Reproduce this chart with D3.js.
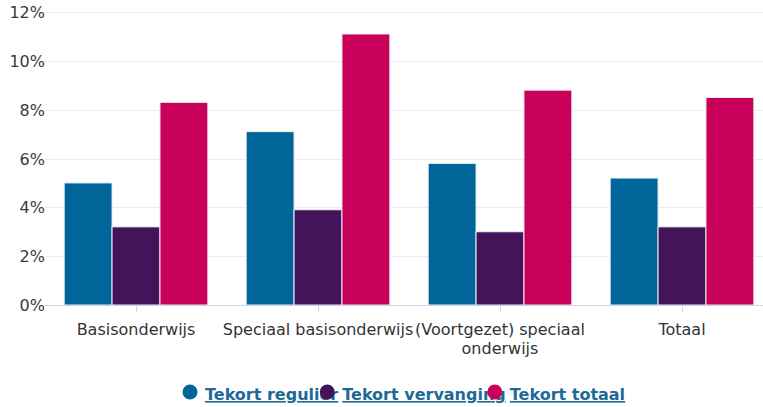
<!DOCTYPE html>
<html lang="nl">
<head>
<meta charset="UTF-8">
<title>Tekort</title>
<script src="https://d3js.org/d3.v7.min.js"></script>
<style>
  body { margin: 0; background: #fff; }
  text { font-family: "DejaVu Sans", Verdana, sans-serif; }
  .grid line { stroke: #ebebf0; stroke-width: 1; }
  .y text { fill: #3a3a3a; font-size: 16px; }
  .x text { fill: #333; font-size: 16px; }
  .legend text { fill: #1d6a97; font-size: 16px; font-weight: bold; text-decoration: underline; }
</style>
</head>
<body>
<script>
var categories = [["Basisonderwijs"], ["Speciaal basisonderwijs"], ["(Voortgezet) speciaal", "onderwijs"], ["Totaal"]];
var seriesNames = ["Tekort regulier", "Tekort vervanging", "Tekort totaal"];
var seriesColors = ["#006699", "#43145a", "#c8005a"];
var regulier = [5.0, 7.1, 5.8, 5.2];
var vervanging = [3.2, 3.9, 3.0, 3.2];
var totaal = [8.3, 11.1, 8.8, 8.5];
var yTicks = [0, 2, 4, 6, 8, 10, 12];

var W = 763, H = 407;
var svg = d3.select("body").append("svg").attr("width", W).attr("height", H);

var x0 = d3.scaleBand().domain(d3.range(categories.length)).range([45, 773]);
var x1 = d3.scaleBand().domain(d3.range(seriesNames.length)).range([0, x0.bandwidth()]).paddingInner(0).paddingOuter(0.4);
var y = d3.scaleLinear().domain([0, 12]).range([305, 12]);

// gridlines
svg.append("g").attr("class", "grid")
  .selectAll("line").data(yTicks.slice(1)).enter().append("line")
  .attr("x1", 45).attr("x2", W)
  .attr("y1", function(d) { return Math.round(y(d)) + 0.5; })
  .attr("y2", function(d) { return Math.round(y(d)) + 0.5; });

// y labels
svg.append("g").attr("class", "y")
  .selectAll("text").data(yTicks).enter().append("text")
  .attr("x", 45).attr("y", function(d) { return y(d) + 6; })
  .attr("text-anchor", "end")
  .text(function(d) { return d + "%"; });

// bars
var rows = [regulier, vervanging, totaal];
var groups = svg.append("g").selectAll("g").data(categories).enter().append("g")
  .attr("transform", function(d, i) { return "translate(" + x0(i) + ",0)"; });
groups.selectAll("rect").data(function(d, i) {
    return rows.map(function(r, s) { return { s: s, v: r[i] }; });
  }).enter().append("rect")
  .attr("x", function(d) { return x1(d.s); })
  .attr("width", x1.bandwidth())
  .attr("y", function(d) { return y(d.v); })
  .attr("height", function(d) { return y(0) - y(d.v); })
  .attr("fill", function(d) { return seriesColors[d.s]; })
  .attr("stroke", "#eef0f8").attr("stroke-width", 1);

// x axis line + ticks
svg.append("line").attr("x1", 45).attr("x2", W).attr("y1", 305.5).attr("y2", 305.5)
  .attr("stroke", "#ccd6eb");
svg.append("g").selectAll("line").data(categories).enter().append("line")
  .attr("x1", function(d, i) { return Math.round(x0(i) + x0.bandwidth() / 2) + 0.5; })
  .attr("x2", function(d, i) { return Math.round(x0(i) + x0.bandwidth() / 2) + 0.5; })
  .attr("y1", 305).attr("y2", 312).attr("stroke", "#ccd6eb");

// x labels
var xl = svg.append("g").attr("class", "x").selectAll("text").data(categories).enter().append("text")
  .attr("text-anchor", "middle")
  .attr("x", function(d, i) { return x0(i) + x0.bandwidth() / 2; })
  .attr("y", 335);
xl.selectAll("tspan").data(function(d) { return d; }).enter().append("tspan")
  .attr("x", function() { return this.parentNode.getAttribute("x"); })
  .attr("dy", function(d, i) { return i ? 19 : 0; })
  .text(function(d) { return d; });

// legend
var legend = svg.append("g").attr("class", "legend");
var lx = 190;
seriesNames.forEach(function(name, i) {
  var t = legend.append("text").attr("x", lx + 15).attr("y", 400).text(name);
  var w = t.node().getComputedTextLength();
  legend.append("circle").attr("cx", lx).attr("cy", 392).attr("r", 7.5).attr("fill", seriesColors[i]);
  lx = lx + 15 + w - 11;
});
</script>
</body>
</html>
